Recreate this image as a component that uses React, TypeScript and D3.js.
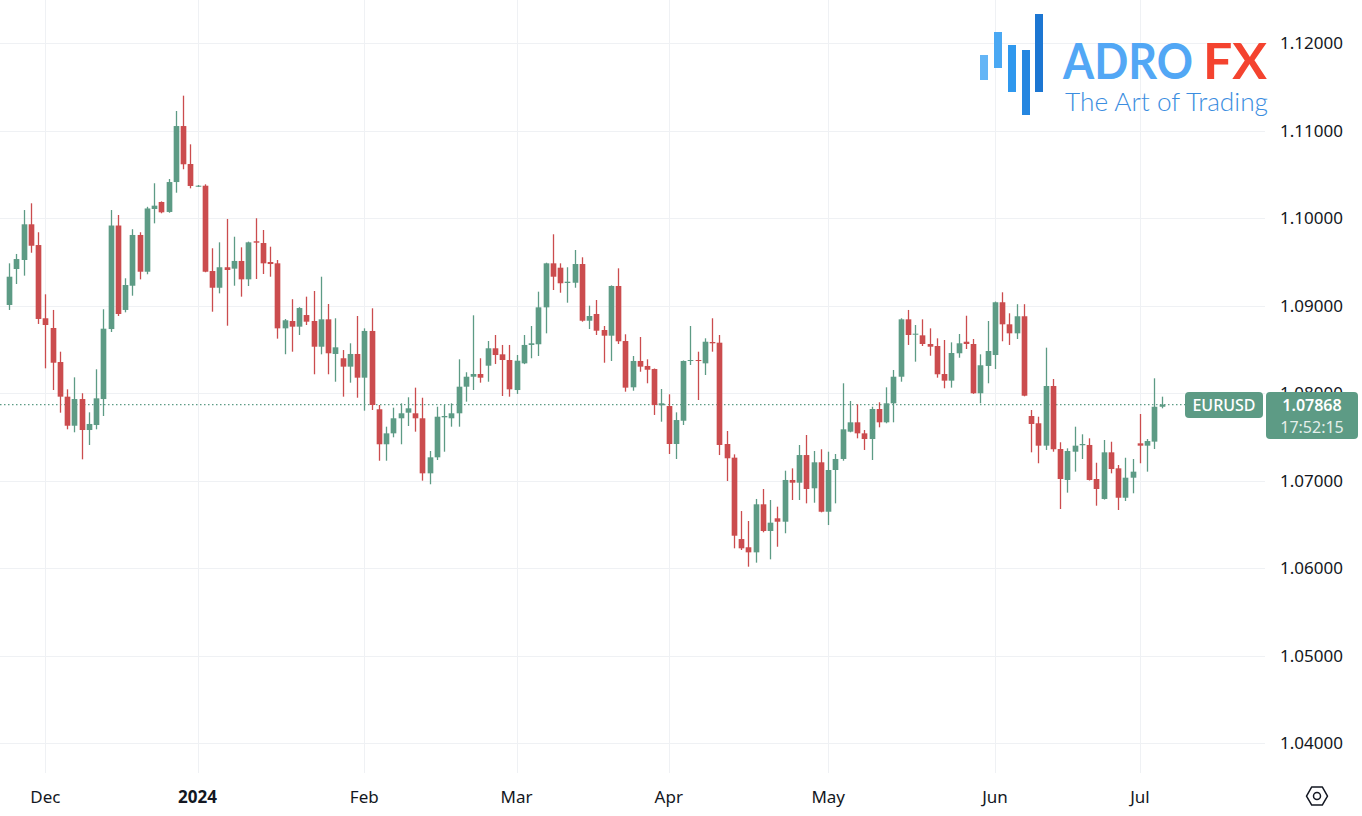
import * as d3 from 'd3';

// EURUSD daily, 24 Nov 2023 - 4 Jul 2024 (weekdays)
const startDate = new Date(Date.UTC(2023, 10, 24));
const endDate = new Date(Date.UTC(2024, 6, 5));

const openValues = [
  1.09006, 1.09417, 1.09520, 1.09928, 1.09691, 1.08854, 1.08743, 1.08354, 1.07958, 1.07626,
  1.07931, 1.07577, 1.07634, 1.07931, 1.08731, 1.09914, 1.08949, 1.09226, 1.09806, 1.09386,
  1.10103, 1.10183, 1.10069, 1.10411, 1.11051, 1.10617, 1.10362, 1.10369, 1.09394, 1.09203,
  1.09437, 1.09421, 1.09509, 1.09299, 1.09734, 1.09714, 1.09497, 1.09482, 1.08739, 1.08823,
  1.08758, 1.08891, 1.08823, 1.08529, 1.08842, 1.08446, 1.08397, 1.08301, 1.08446, 1.08175,
  1.08709, 1.07814, 1.07414, 1.07539, 1.07711, 1.07775, 1.07768, 1.07711, 1.07082, 1.07265,
  1.07722, 1.07711, 1.07768, 1.08072, 1.08186, 1.08217, 1.08312, 1.08511, 1.08442, 1.08377,
  1.08034, 1.08339, 1.08549, 1.08557, 1.08979, 1.09482, 1.09432, 1.09257, 1.09260, 1.09474,
  1.08826, 1.08903, 1.08720, 1.08655, 1.09223, 1.08594, 1.08065, 1.08366, 1.08309, 1.08274,
  1.07859, 1.07851, 1.07417, 1.07683, 1.08366, 1.08377, 1.08339, 1.08583, 1.08575, 1.07417,
  1.07261, 1.06331, 1.06237, 1.06179, 1.06728, 1.06423, 1.06568, 1.06529, 1.07006, 1.06975,
  1.07291, 1.06911, 1.07208, 1.06643, 1.07120, 1.07246, 1.07558, 1.07665, 1.07539, 1.07474,
  1.07817, 1.07665, 1.07882, 1.08186, 1.08842, 1.08666, 1.08659, 1.08560, 1.08537, 1.08217,
  1.08141, 1.08454, 1.08586, 1.08560, 1.07997, 1.08309, 1.08434, 1.09037, 1.08785, 1.08682,
  1.08877, 1.07737, 1.07654, 1.07398, 1.08080, 1.07360, 1.07006, 1.07329, 1.07403, 1.07406,
  1.07017, 1.06789, 1.07322, 1.07139, 1.06803, 1.07032, 1.07425, 1.07398, 1.07444, 1.07843,
];

const highValues = [
  1.09482, 1.09589, 1.10091, 1.10168, 1.09837, 1.09128, 1.08949, 1.08472, 1.08042, 1.08179,
  1.07997, 1.07779, 1.08271, 1.08957, 1.10091, 1.10034, 1.09311, 1.09872, 1.09837, 1.10128,
  1.10397, 1.10190, 1.10446, 1.11223, 1.11398, 1.10842, 1.10377, 1.10385, 1.09654, 1.09722,
  1.09989, 1.09786, 1.09665, 1.09730, 1.09997, 1.09863, 1.09672, 1.09520, 1.08846, 1.09072,
  1.08981, 1.09101, 1.09166, 1.09329, 1.09017, 1.08854, 1.08491, 1.08568, 1.08880, 1.08739,
  1.08968, 1.07863, 1.07615, 1.07832, 1.07882, 1.07951, 1.08061, 1.07946, 1.07337, 1.07843,
  1.07863, 1.07882, 1.08385, 1.08237, 1.08888, 1.08397, 1.08594, 1.08663, 1.08549, 1.08549,
  1.08434, 1.08663, 1.08766, 1.09158, 1.09489, 1.09814, 1.09482, 1.09437, 1.09634, 1.09551,
  1.08998, 1.09063, 1.08766, 1.09230, 1.09425, 1.08671, 1.08423, 1.08640, 1.08385, 1.08280,
  1.08046, 1.07985, 1.07779, 1.08372, 1.08766, 1.08472, 1.08625, 1.08854, 1.08663, 1.07566,
  1.07299, 1.06651, 1.06537, 1.06789, 1.06903, 1.06777, 1.06701, 1.07112, 1.07139, 1.07406,
  1.07520, 1.07337, 1.07357, 1.07329, 1.07303, 1.08111, 1.07909, 1.07871, 1.07577, 1.07843,
  1.07894, 1.08065, 1.08263, 1.08854, 1.08949, 1.08777, 1.08842, 1.08739, 1.08625, 1.08606,
  1.08579, 1.08674, 1.08883, 1.08617, 1.08442, 1.08823, 1.09045, 1.09151, 1.08911, 1.09015,
  1.09015, 1.07806, 1.07729, 1.08518, 1.08160, 1.07437, 1.07368, 1.07615, 1.07528, 1.07482,
  1.07203, 1.07463, 1.07443, 1.07177, 1.07260, 1.07246, 1.07760, 1.07474, 1.08168, 1.07958,
];

const lowValues = [
  1.08949, 1.09246, 1.09341, 1.09603, 1.08789, 1.08282, 1.08034, 1.07775, 1.07585, 1.07551,
  1.07242, 1.07406, 1.07585, 1.07737, 1.08697, 1.08880, 1.08922, 1.09112, 1.09299, 1.09357,
  1.09939, 1.10054, 1.10060, 1.10289, 1.10557, 1.10339, 1.10354, 1.09380, 1.08929, 1.09139,
  1.08769, 1.09226, 1.09101, 1.09223, 1.09303, 1.09360, 1.09329, 1.08621, 1.08443, 1.08472,
  1.08663, 1.08777, 1.08214, 1.08442, 1.08214, 1.08129, 1.07958, 1.08118, 1.07946, 1.07798,
  1.07806, 1.07226, 1.07226, 1.07494, 1.07414, 1.07623, 1.07558, 1.06998, 1.06957, 1.07234,
  1.07329, 1.07615, 1.07615, 1.07901, 1.08034, 1.08118, 1.08129, 1.08331, 1.07966, 1.07958,
  1.07989, 1.08330, 1.08397, 1.08423, 1.08682, 1.09177, 1.09146, 1.09032, 1.09203, 1.08815,
  1.08731, 1.08663, 1.08346, 1.08366, 1.08560, 1.08015, 1.08026, 1.08243, 1.08111, 1.07749,
  1.07672, 1.07303, 1.07246, 1.07634, 1.08320, 1.07920, 1.08206, 1.08472, 1.07291, 1.06994,
  1.06225, 1.06206, 1.06015, 1.06061, 1.06408, 1.06099, 1.06243, 1.06397, 1.06777, 1.06777,
  1.06739, 1.06746, 1.06636, 1.06491, 1.06739, 1.07226, 1.07551, 1.07482, 1.07349, 1.07234,
  1.07608, 1.07654, 1.07665, 1.08129, 1.08549, 1.08358, 1.08537, 1.08426, 1.08175, 1.08054,
  1.08061, 1.08403, 1.08503, 1.07990, 1.07882, 1.08111, 1.08274, 1.08591, 1.08549, 1.08617,
  1.07962, 1.07322, 1.07197, 1.07349, 1.07329, 1.06674, 1.06861, 1.07101, 1.07246, 1.07000,
  1.06712, 1.06782, 1.07082, 1.06663, 1.06766, 1.06854, 1.07197, 1.07101, 1.07360, 1.07825,
];

const closeValues = [
  1.09329, 1.09531, 1.09928, 1.09683, 1.08846, 1.08777, 1.08346, 1.07958, 1.07626, 1.07931,
  1.07577, 1.07646, 1.07939, 1.08735, 1.09914, 1.08903, 1.09234, 1.09806, 1.09386, 1.10109,
  1.10141, 1.10065, 1.10411, 1.11051, 1.10614, 1.10366, 1.10369, 1.09386, 1.09203, 1.09437,
  1.09406, 1.09509, 1.09299, 1.09722, 1.09718, 1.09482, 1.09474, 1.08739, 1.08831, 1.08758,
  1.08971, 1.08815, 1.08529, 1.08842, 1.08454, 1.08522, 1.08301, 1.08446, 1.08175, 1.08709,
  1.07863, 1.07414, 1.07539, 1.07711, 1.07768, 1.07825, 1.07711, 1.07082, 1.07265, 1.07729,
  1.07737, 1.07768, 1.08072, 1.08186, 1.08217, 1.08175, 1.08511, 1.08434, 1.08377, 1.08042,
  1.08369, 1.08549, 1.08568, 1.08979, 1.09482, 1.09329, 1.09254, 1.09272, 1.09474, 1.08826,
  1.08880, 1.08712, 1.08655, 1.09223, 1.08591, 1.08061, 1.08366, 1.08301, 1.08266, 1.07863,
  1.07882, 1.07417, 1.07691, 1.08366, 1.08377, 1.08366, 1.08586, 1.08568, 1.07406, 1.07254,
  1.06369, 1.06225, 1.06179, 1.06728, 1.06423, 1.06518, 1.06529, 1.07006, 1.06975, 1.07291,
  1.06903, 1.07208, 1.06643, 1.07120, 1.07246, 1.07585, 1.07665, 1.07539, 1.07474, 1.07817,
  1.07665, 1.07882, 1.08186, 1.08842, 1.08663, 1.08678, 1.08560, 1.08529, 1.08214, 1.08141,
  1.08457, 1.08568, 1.08560, 1.07997, 1.08317, 1.08480, 1.09037, 1.08785, 1.08682, 1.08877,
  1.07969, 1.07646, 1.07398, 1.08080, 1.07357, 1.07017, 1.07337, 1.07398, 1.07417, 1.07006,
  1.06903, 1.07322, 1.07131, 1.06803, 1.07032, 1.07101, 1.07398, 1.07451, 1.07843, 1.07868,
];

const priceTicks = [1.04, 1.05, 1.06, 1.07, 1.08, 1.09, 1.10, 1.11, 1.12];
const monthLabels = ['Dec', '2024', 'Feb', 'Mar', 'Apr', 'May', 'Jun', 'Jul'];

const symbol = 'EURUSD';
const lastPrice = 1.07868;
const countdown = '17:52:15';

const upColor = '#5d9b85';
const downColor = '#cb4c4e';
const gridColor = '#eff1f4';
const textColor = '#131722';
const font = '"Noto Sans", "DejaVu Sans", sans-serif';
const logoFont = 'Lato, "Noto Sans", sans-serif';

const width = 1362;
const height = 816;
const plotRight = 1265;
const plotBottom = 773;

export default function App() {
  const days = d3.utcDay.range(startDate, endDate).filter(d => d.getUTCDay() !== 0 && d.getUTCDay() !== 6);
  const candles = days.map((date, i) => ({
    date,
    i,
    open: openValues[i],
    high: highValues[i],
    low: lowValues[i],
    close: closeValues[i],
  }));

  // first trading day of every month (skip the partial November)
  const monthStarts = candles.filter((c, i) => i > 0 && c.date.getUTCMonth() !== candles[i - 1].date.getUTCMonth());

  const x = d3.scaleLinear().domain([-1.25, 173.25]).range([0, plotRight]);
  const y = d3.scaleLinear().domain([1.04, 1.12]).range([743, 43]);

  const step = x(1) - x(0);
  const bodyW = step * 0.78;
  const lastY = y(lastPrice);

  // settings hexagon
  const hexR = 10.5;
  const hex = d3.range(6).map(k => {
    const a = (Math.PI / 3) * k;
    return [1317 + hexR * Math.cos(a), 796 + hexR * Math.sin(a)];
  });

  const logoBars = [
    { x: 980, y0: 55, y1: 80, c: '#64b5f6' },
    { x: 994, y0: 32, y1: 68, c: '#4aa8f3' },
    { x: 1008, y0: 45, y1: 92, c: '#2f98ee' },
    { x: 1022, y0: 50, y1: 115, c: '#2586e0' },
    { x: 1035, y0: 14, y1: 92, c: '#1c76d2' },
  ];

  return (
    <svg width={width} height={height} style={{ position: 'absolute', left: 0, top: 0, background: '#fff' }} fontFamily={font}>
      <rect width={width} height={height} fill="#ffffff" />

      {/* grid */}
      {priceTicks.map(p => (
        <line key={p} x1={0} x2={plotRight} y1={Math.round(y(p)) + 0.5} y2={Math.round(y(p)) + 0.5} stroke={gridColor} />
      ))}
      {monthStarts.map(c => (
        <line key={c.i} x1={Math.round(x(c.i)) + 0.5} x2={Math.round(x(c.i)) + 0.5} y1={0} y2={plotBottom} stroke={gridColor} />
      ))}

      {/* logo */}
      <g>
        {logoBars.map(b => (
          <rect key={b.x} x={b.x} y={b.y0} width={8} height={b.y1 - b.y0} fill={b.c} />
        ))}
        <g transform="translate(0,79) scale(1,1.08)">
          <text x={1063} y={0} fontFamily={logoFont} fontWeight={700} fontSize={46} fill="#52a7f5" textLength={130} lengthAdjust="spacingAndGlyphs">ADRO</text>
          <text x={1203} y={0} fontFamily={logoFont} fontWeight={700} fontSize={46} fill="#f4432f" textLength={64} lengthAdjust="spacingAndGlyphs">FX</text>
        </g>
        <text x={1065} y={111} fontFamily={logoFont} fontWeight={300} fontSize={25} fill="#3b8de0" textLength={203} lengthAdjust="spacingAndGlyphs">The Art of Trading</text>
      </g>

      {/* last price line */}
      <line x1={0} x2={1185} y1={lastY} y2={lastY} stroke={upColor} strokeWidth={1.3} strokeDasharray="1.5 2.5" />

      {/* candles */}
      {candles.map(c => {
        const cx = Math.round(x(c.i)) + 0.5;
        const col = c.close >= c.open ? upColor : downColor;
        const top = y(Math.max(c.open, c.close));
        const bot = y(Math.min(c.open, c.close));
        return (
          <g key={c.i}>
            <line x1={cx} x2={cx} y1={y(c.high)} y2={y(c.low)} stroke={col} strokeWidth={1.3} />
            <rect x={cx - bodyW / 2} y={top} width={bodyW} height={Math.max(1, bot - top)} fill={col} />
          </g>
        );
      })}

      {/* price axis */}
      {priceTicks.map(p => (
        <text key={p} x={1280} y={y(p) + 6} fontSize={17} fill={textColor}>{p.toFixed(5)}</text>
      ))}

      {/* time axis */}
      {monthStarts.map((c, k) => (
        <text key={c.i} x={x(c.i)} y={803} fontSize={17} textAnchor="middle" fill={textColor} fontWeight={monthLabels[k] === '2024' ? 700 : 400}>
          {monthLabels[k]}
        </text>
      ))}

      {/* symbol & last price labels (drawn over the price axis like the original) */}
      <rect x={1185} y={392} width={78} height={26} rx={4} fill={upColor} />
      <text x={1224} y={411} fontSize={16} textAnchor="middle" fill="#ffffff" fontWeight={500}>{symbol}</text>
      <rect x={1266} y={392} width={92} height={47} rx={4} fill={upColor} />
      <text x={1312} y={411} fontSize={16} textAnchor="middle" fill="#ffffff" fontWeight={600}>{lastPrice.toFixed(5)}</text>
      <text x={1312} y={433} fontSize={16} textAnchor="middle" fill="#ffffff" fillOpacity={0.85}>{countdown}</text>

      {/* settings icon */}
      <polygon points={hex.map(p => p.join(',')).join(' ')} fill="none" stroke={textColor} strokeWidth={1.5} strokeLinejoin="round" />
      <circle cx={1317} cy={796} r={3.5} fill="none" stroke={textColor} strokeWidth={1.5} />
    </svg>
  );
}
